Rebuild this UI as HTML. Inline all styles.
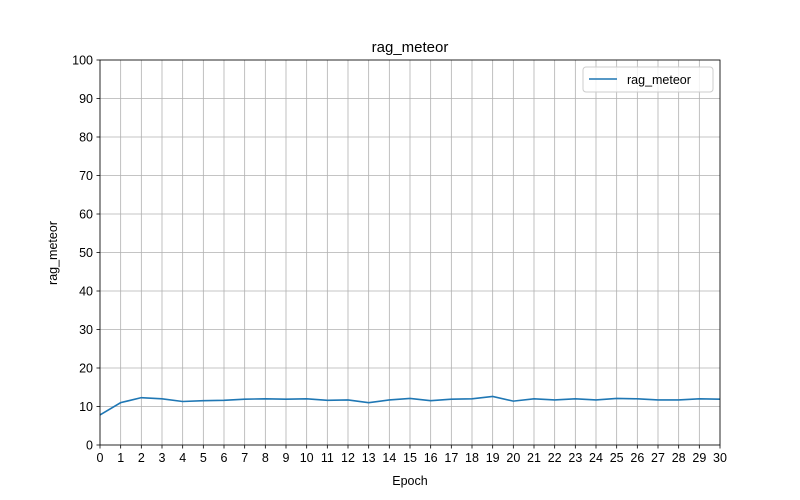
<!DOCTYPE html>
<html><head><meta charset="utf-8"><style>body{margin:0;background:#fff}svg{display:block;font-family:"Liberation Sans","DejaVu Sans",sans-serif}</style></head>
<body>
<svg id="c" width="800" height="500" viewBox="0 0 800 500"></svg>
<script>
const epochs=[0,1,2,3,4,5,6,7,8,9,10,11,12,13,14,15,16,17,18,19,20,21,22,23,24,25,26,27,28,29,30];
const meteor=[7.8,11,12.3,12,11.3,11.5,11.6,11.9,12,11.9,12,11.6,11.7,11,11.7,12.1,11.5,11.9,12,12.6,11.4,12,11.7,12,11.7,12.1,12,11.7,11.7,12,11.9];
const yTicks=[0,10,20,30,40,50,60,70,80,90,100];
const svg=document.getElementById('c');const NS='http://www.w3.org/2000/svg';
const L=100,R=720,T=60,B=445;
const xs=v=>L+(v-0)/30*(R-L), ys=v=>B-v/100*(B-T);
function mk(t,a,txt){const e=document.createElementNS(NS,t);for(const k in a)e.setAttribute(k,a[k]);if(txt!==undefined)e.textContent=txt;svg.appendChild(e);return e;}
epochs.forEach(v=>{
const g=mk('line',{x1:xs(v),x2:xs(v),y1:T,y2:B,stroke:'#b0b0b0','stroke-width':0.8});


const tk=mk('line',{x1:xs(v),x2:xs(v),y1:B,y2:B+3.5,stroke:'#000','stroke-width':0.8});


const t=mk('text',{x:xs(v),y:B+17,'text-anchor':'middle','font-size':12.5},v);


});
yTicks.forEach(v=>{
const g=mk('line',{x1:L,x2:R,y1:ys(v),y2:ys(v),stroke:'#b0b0b0','stroke-width':0.8});


const tk=mk('line',{x1:L-3.5,x2:L,y1:ys(v),y2:ys(v),stroke:'#000','stroke-width':0.8});


const t=mk('text',{x:L-7,y:ys(v)+4.5,'text-anchor':'end','font-size':12.5},v);


});
const ln=mk('polyline',{points:epochs.map((e,i)=>xs(e)+','+ys(meteor[i])).join(' '),fill:'none',stroke:'#1f77b4','stroke-width':1.6});


const fr=mk('rect',{x:L,y:T,width:R-L,height:B-T,fill:'none',stroke:'#000','stroke-width':0.8});


const ti=mk('text',{x:410,y:52,'text-anchor':'middle','font-size':15},'rag_meteor');


const xl=mk('text',{x:410,y:485,'text-anchor':'middle','font-size':12.5},'Epoch');


const yl=mk('text',{x:57,y:253,'text-anchor':'middle','font-size':12.5,transform:'rotate(-90 57 253)'},'rag_meteor');


const lg=mk('rect',{x:583,y:67,width:130,height:25,fill:'#fff','fill-opacity':0.8,stroke:'#ccc',rx:3});


const ll=mk('line',{x1:589,x2:617,y1:79,y2:79,stroke:'#1f77b4','stroke-width':1.6});


const lt=mk('text',{x:627,y:84,'font-size':12.5},'rag_meteor');


</script>
</body></html>
